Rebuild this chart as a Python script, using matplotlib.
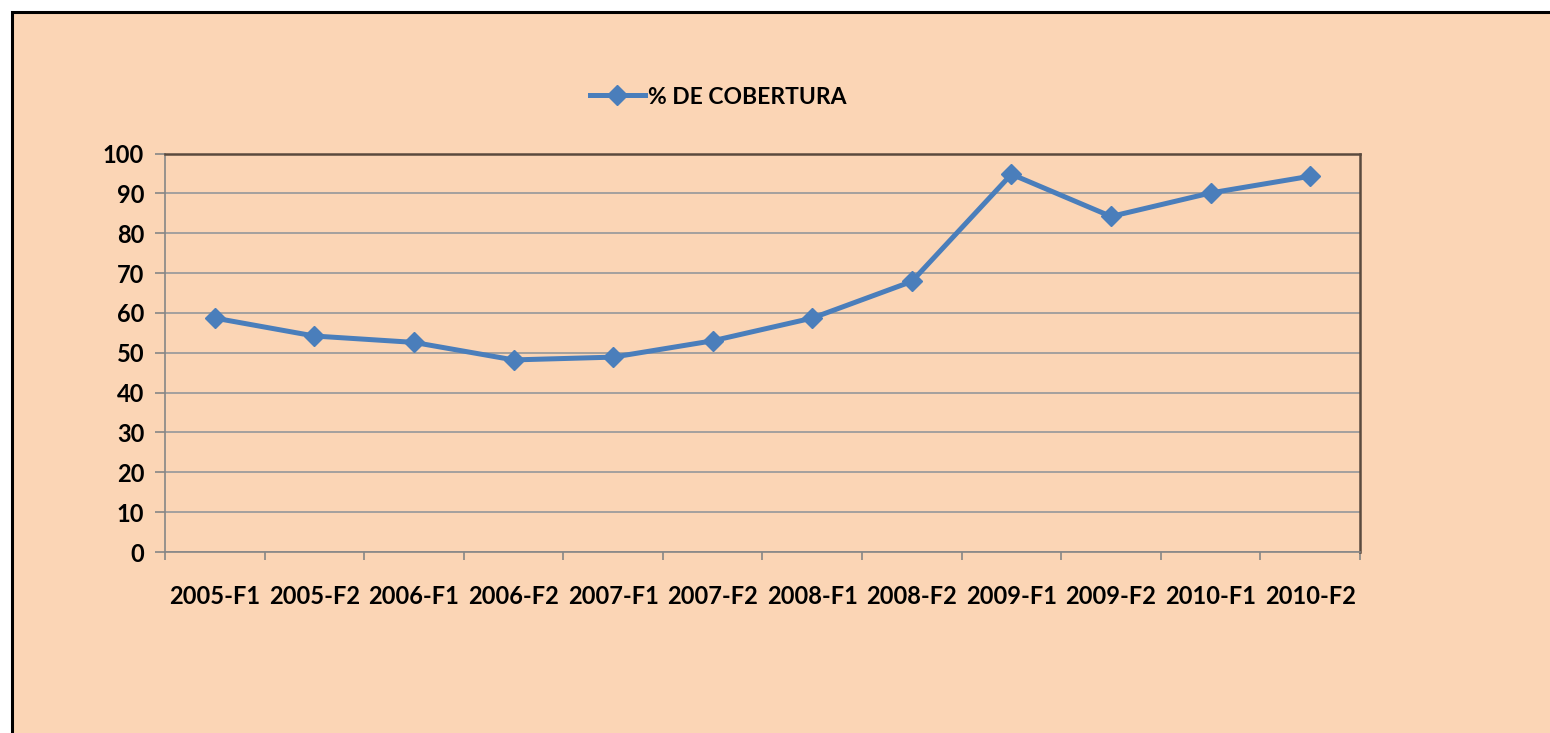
import matplotlib
matplotlib.use('Agg')
import matplotlib.pyplot as plt
from matplotlib.patches import Rectangle
import numpy as np

periods = ['2005-F1', '2005-F2', '2006-F1', '2006-F2', '2007-F1', '2007-F2',
           '2008-F1', '2008-F2', '2009-F1', '2009-F2', '2010-F1', '2010-F2']
coverage = [58.7, 54.2, 52.6, 48.2, 48.9, 53.0, 58.7, 67.9, 94.8, 84.2, 90.1, 94.3]
y_ticks = list(range(0, 101, 10))

BG = '#FBD5B5'
LINE = '#4A7EBB'

plt.rcParams['font.family'] = ['Lato', 'DejaVu Sans']

fig = plt.figure(figsize=(15.5, 7.33), dpi=100)
fig.patch.set_facecolor('white')
# peach chart frame, cut off at the right and bottom like the screenshot
frame = Rectangle((12 / 1550, -0.05), 1.2, 1 - 12 / 733 + 0.05,
                  transform=fig.transFigure, facecolor=BG,
                  edgecolor='black', linewidth=2.2, zorder=-5)
fig.patches.append(frame)

ax = fig.add_axes([165 / 1550, 1 - 552 / 733, 1195 / 1550, 398.5 / 733])
ax.set_zorder(2)
ax.set_facecolor(BG)

x = np.arange(len(periods))
ax.plot(x, coverage, color=LINE, linewidth=3.6, marker='D', markersize=10.5,
        label='% DE COBERTURA', zorder=3)

ax.set_xlim(-0.5, len(periods) - 0.5)
ax.set_ylim(0, 100)
ax.set_yticks(y_ticks)
ax.yaxis.grid(True, color='#9C9C9C', linewidth=1.3)
ax.set_axisbelow(True)

ax.set_xticks(x)
ax.set_xticklabels(periods)
ax.set_xticks(np.arange(-0.5, len(periods)), minor=True)
ax.tick_params(axis='x', which='major', length=0, pad=24, labelsize=17)
ax.tick_params(axis='x', which='minor', length=6, color='#868686', width=1.2)
ax.tick_params(axis='y', length=7, color='#868686', width=1.2, pad=8, labelsize=17)
for lab in ax.get_xticklabels() + ax.get_yticklabels():
    lab.set_fontweight('bold')

for side in ['left', 'bottom']:
    ax.spines[side].set_color('#868686')
    ax.spines[side].set_linewidth(1.2)
for side in ['top', 'right']:
    ax.spines[side].set_color('#5A4A3E')
    ax.spines[side].set_linewidth(1.8)

leg = fig.legend(loc='center', bbox_to_anchor=(718 / 1550, 1 - 97 / 733),
                 frameon=False, handlelength=2.4, handletextpad=0.15,
                 prop={'size': 16.5, 'weight': 'bold'})

fig.savefig('out.png', dpi=100, facecolor=fig.get_facecolor())
